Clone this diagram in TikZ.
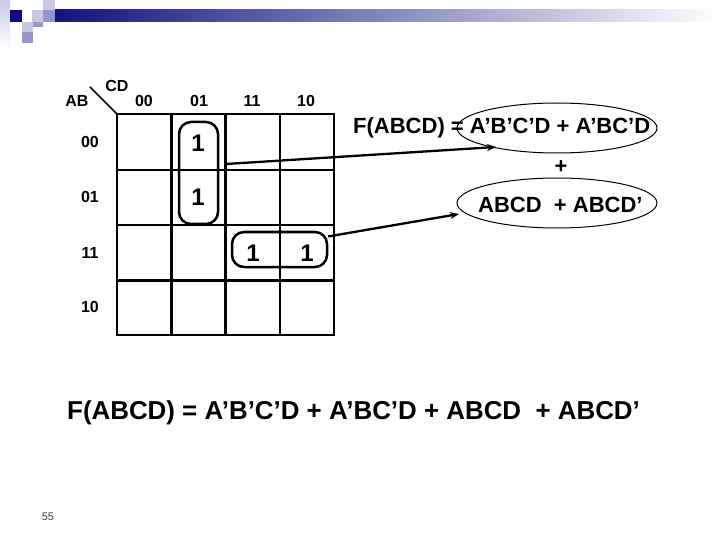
\documentclass[tikz,border=0pt]{standalone}
\usepackage{fontspec}
\setmainfont{Liberation Sans}
\usepackage{tikz}
\usetikzlibrary{calc,shapes,arrows.meta}

\definecolor{navy}{RGB}{14,14,122}
\definecolor{lav}{RGB}{200,200,228}
\definecolor{peri}{RGB}{150,150,202}
\definecolor{pgray}{RGB}{60,60,60}

\begin{document}
\begin{tikzpicture}[x=1pt,y=-1pt,
    lbl/.style={font=\bfseries\fontsize{16}{19}\selectfont},
    one/.style={font=\bfseries\fontsize{24}{28}\selectfont},
    eqn/.style={font=\bfseries\fontsize{22}{26}\selectfont},
    grp/.style={draw, rounded corners=12, line width=2.5pt},
    oval/.style={draw, ellipse, line width=1pt},
    arw/.style={-{Stealth[length=9pt,width=7pt]}, line width=2.3pt}]
    \useasboundingbox (0,0) rectangle (720,540);

    % slide header
    \shade[top color=lav, bottom color=white] (0,0) rectangle (10,48);
    \shade[left color=navy, right color=white] (43,10) rectangle (720,22);
    \fill[navy] (10,10) rectangle (22,22);
    \fill[lav] (32,10) rectangle (43,22);
    \fill[lav] (43,0) rectangle (55,10);
    \fill[peri] (43,10) rectangle (55,22);
    \fill[lav] (22,22) rectangle (33,32);
    \fill[peri] (33,22) rectangle (43,27);
    \fill[peri] (22,32) rectangle (33,43);

    % k-map
    \draw[line width=2.8pt] (117,114) rectangle (334,335);
    \draw[line width=2.8pt] (171.5,114) -- (171.5,335);
    \draw[line width=2.8pt] (225.7,114) -- (225.7,335);
    \draw[line width=2.8pt] (280,114) -- (280,335);
    \draw[line width=2.8pt] (117,170) -- (334,170);
    \draw[line width=2.8pt] (117,225) -- (334,225);
    \draw[line width=2.8pt] (117,280.5) -- (334,280.5);
    \draw[line width=1.5pt] (90,87) -- (117,114);

    \node[lbl] (AB) at (77,101) {AB};
    \node[lbl] (CD) at (117,86) {CD};
    \node[lbl] (C00) at (144,101) {00};
    \node[lbl] (C01) at (199,101) {01};
    \node[lbl] (C11) at (252,101) {11};
    \node[lbl] (C10) at (306,101) {10};
    \node[lbl] (R00) at (90,142) {00};
    \node[lbl] (R01) at (90,197) {01};
    \node[lbl] (R11) at (90,253) {11};
    \node[lbl] (R10) at (90,307) {10};

    \node[one] (M1) at (198,143) {1};
    \node[one] (M5) at (198,197) {1};
    \node[one] (M15) at (253,253) {1};
    \node[one] (M14) at (307,253) {1};

    \node[grp, minimum width=39, minimum height=102] (G1) at (198.5,173) {};
    \node[grp, minimum width=95, minimum height=35] (G2) at (279.5,249.5) {};

    % terms
    \node[eqn, anchor=west, inner sep=0] (T1) at (353,128) {F(ABCD) = A’B’C’D + A’BC’D};
    \node[oval, minimum width=200, minimum height=50] (E1) at (557,128) {};
    \node[eqn] (P1) at (561,167) {+};
    \node[eqn, anchor=west, inner sep=0] (T2) at (478,205) {ABCD\ \ + ABCD’};
    \node[oval, minimum width=200, minimum height=50] (E2) at (557,203) {};

    \coordinate (s1) at (226,164);
    \coordinate (a1) at (496,147);
    \coordinate (a2) at (459,214);
    \draw[arw] (s1) -- (a1);
    \draw[arw] (G2.15) -- (a2);

    \node[font=\bfseries\fontsize{25.9}{30}\selectfont, anchor=west, inner sep=0] (F) at (67,413)
        {F(ABCD) = A’B’C’D + A’BC’D + ABCD\ \ + ABCD’};

    \node[font=\fontsize{11}{13}\selectfont, text=pgray] (pg) at (48,517) {55};
\end{tikzpicture}
\end{document}
